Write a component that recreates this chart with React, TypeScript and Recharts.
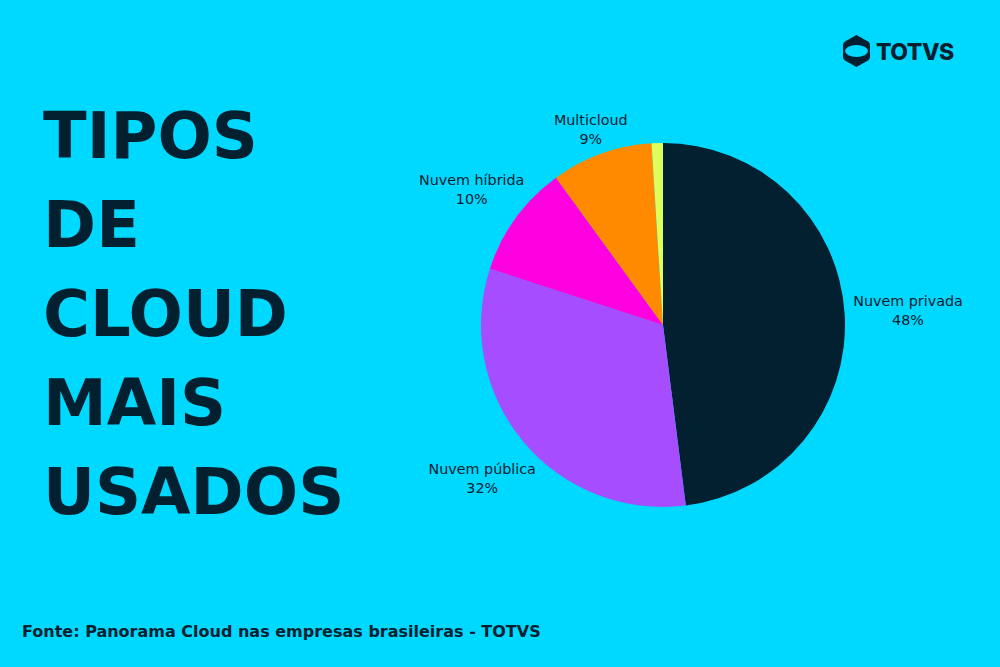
import { PieChart, Pie, Cell } from "recharts";

const categories = ["Nuvem privada", "Nuvem pública", "Nuvem híbrida", "Multicloud", "Outros"];
const shares = [48, 32, 10, 9, 1];
const colors = ["#02202f", "#a64dff", "#ff00e0", "#ff8a00", "#dcff5c"];
const titleLines = ["TIPOS", "DE", "CLOUD", "MAIS", "USADOS"];
const sourceText = "Fonte: Panorama Cloud nas empresas brasileiras - TOTVS";

const BG = "#00d9ff";
const INK = "#02202f";

const data = categories.map((name, i) => ({ name, value: shares[i] }));

const RAD = Math.PI / 180;

// outside label: two centred lines, pushed out so the text box clears the slice
const renderLabel = (props: any) => {
  const { cx, cy, midAngle, outerRadius, name, value } = props;
  if (value < 2) return null;
  const cos = Math.cos(-midAngle * RAD);
  const sin = Math.sin(-midAngle * RAD);
  const hw = (name.length * 8.4) / 2;
  const hh = 18;
  const ext = Math.sqrt((hw * cos) ** 2 + (hh * sin) ** 2);
  const r = outerRadius + 9 + ext;
  const x = cx + r * cos;
  const y = cy + r * sin + 5 * Math.abs(sin);
  return (
    <text
      x={x}
      y={y}
      textAnchor="middle"
      fill={INK}
      style={{ fontFamily: "DejaVu Sans", fontSize: 14.3 }}
    >
      <tspan x={x} y={y - 4}>{name}</tspan>
      <tspan x={x} y={y + 15}>{value}%</tspan>
    </text>
  );
};

export default function App() {
  return (
    <div style={{ position: "absolute", left: 0, top: 0, width: 1000, height: 667, background: BG, overflow: "hidden" }}>
      <div style={{ position: "absolute", left: 0, top: 0 }}>
        <PieChart width={1000} height={667} margin={{ top: 0, right: 0, bottom: 0, left: 0 }}>
          <Pie
            data={data}
            dataKey="value"
            nameKey="name"
            cx={663}
            cy={325}
            outerRadius={182}
            startAngle={90}
            endAngle={-270}
            stroke="none"
            label={renderLabel}
            labelLine={false}
            isAnimationActive={false}
          >
            {data.map((d, i) => (
              <Cell key={d.name} fill={colors[i]} />
            ))}
          </Pie>
        </PieChart>
      </div>
      <svg width={1000} height={667} style={{ position: "absolute", left: 0, top: 0, pointerEvents: "none" }}>
        {titleLines.map((t, i) => (
          <text
            key={t}
            x={43}
            y={158 + i * 89}
            fill={INK}
            style={{ fontFamily: "DejaVu Sans", fontWeight: "bold", fontSize: 64 }}
          >
            {t}
          </text>
        ))}
        <text x={22} y={637} fill={INK} style={{ fontFamily: "DejaVu Sans", fontWeight: "bold", fontSize: 16 }}>
          {sourceText}
        </text>
        {/* logo */}
        <path
          d="M856.5 35 L868 41.5 Q870 42.7 870 45 L870 57 Q870 59.3 868 60.5 L856.5 67 L845 60.5 Q843 59.3 843 57 L843 45 Q843 42.7 845 41.5 Z"
          fill={INK}
        />
        <ellipse cx={856.5} cy={51} rx={11.5} ry={6} fill={BG} />
        <text x={876} y={60} fill={INK} style={{ fontFamily: "Inter", fontWeight: 800, fontSize: 23, letterSpacing: -0.5 }}>
          TOTVS
        </text>
      </svg>
    </div>
  );
}
